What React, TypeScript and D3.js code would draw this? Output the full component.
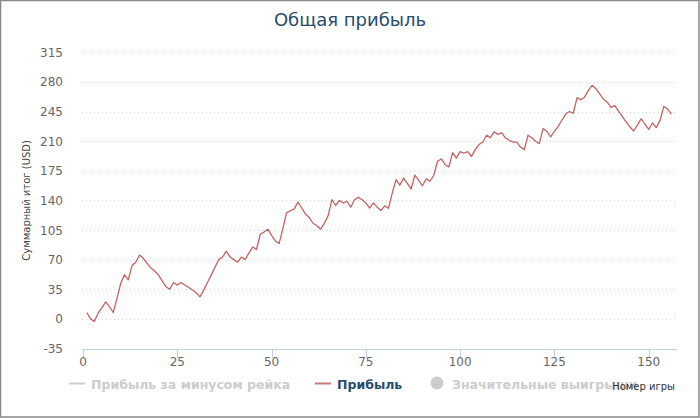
import React from "react";
import * as d3 from "d3";

const games: number[] = Array.from({ length: 156 }, (_, i) => i + 1);
const profit: number[] = [
  7.5, 0, -3, 6.7, 13, 20, 14.5, 7.5, 24, 42,
  52, 46, 63, 67, 75.5, 71.6, 65.7, 60, 56.6, 52,
  45, 38, 35, 43, 40, 43, 40, 37.4, 34, 31,
  26, 34, 43, 51.7, 61, 70, 73, 80, 73, 70,
  67, 73, 70, 78, 85, 82, 100, 102.6, 106, 98.6,
  92, 89, 107, 125.7, 127.7, 130, 138, 131, 123.7, 119.7,
  113, 110, 106, 113, 122, 140.8, 134, 140, 137, 139,
  132, 140.8, 143.6, 140.8, 137, 131, 137, 132, 128, 133.6,
  130.6, 148.7, 164.5, 158, 166.3, 160, 153.5, 170, 163.7, 157.3,
  165.6, 162.6, 169.4, 186.3, 189, 182.5, 179.5, 196.5, 190, 197.6,
  195.7, 197.6, 192, 200, 206, 209, 217, 214, 221, 218,
  220, 214, 211, 209, 209, 203, 200, 217, 214, 210,
  207, 225, 221.7, 215, 221.7, 227.5, 235, 242, 245, 243,
  261.5, 259, 262, 270, 276, 272, 266, 259.6, 256, 250,
  252, 245.4, 239, 232.7, 227, 222, 229, 236.5, 230, 224,
  231.5, 226, 234.6, 251, 248, 242,
];
const yTicks: number[] = [-35, 0, 35, 70, 105, 140, 175, 210, 245, 280, 315];
const xTicks: number[] = [0, 25, 50, 75, 100, 125, 150];
const legendItems = [
  { label: "Прибыль за минусом рейка", kind: "line", visible: false },
  { label: "Прибыль", kind: "line", visible: true },
  { label: "Значительные выигрыши", kind: "circle", visible: false },
];
const title = "Общая прибыль";
const yTitle = "Суммарный итог (USD)";
const xTitle = "Номер игры";

const W = 700;
const H = 418;
const FONT = "'DejaVu Sans', Verdana, sans-serif";
const LINE_COLOR = "#c25f5d";

export default function App() {
  const x = d3.scaleLinear().domain([0, 157.5]).range([83, 677]);
  const y = d3.scaleLinear().domain([-35, 315]).range([348.5, 52.3]);
  const line = d3
    .line<number>()
    .x((_, i) => x(games[i]))
    .y((d) => y(d));

  const legendX = [69, 315, 437];

  return (
    <svg
      width={W}
      height={H}
      style={{ position: "absolute", left: 0, top: 0, background: "#fff" }}
      fontFamily={FONT}
    >
      <rect x={0.5} y={0.5} width={W - 1.5} height={H - 1.5} fill="#fff" stroke="#888" strokeWidth={1.5} />
      <text x={350} y={26} textAnchor="middle" fontSize={18} fill="#274b6d">
        {title}
      </text>

      {yTicks.map((t) =>
        t === -35 ? null : (
          <line
            key={"g" + t}
            x1={82}
            x2={677}
            y1={Math.round(y(t)) + 0.5}
            y2={Math.round(y(t)) + 0.5}
            stroke="#d0d0d0"
            strokeDasharray="1,3"
          />
        )
      )}
      {yTicks.map((t) => (
        <text key={"yl" + t} x={63} y={y(t) + 4.5} textAnchor="end" fontSize={12} fill="#666">
          {t}
        </text>
      ))}
      <text
        transform={`translate(30,${y(140)}) rotate(-90)`}
        textAnchor="middle"
        fontSize={10}
        fill="#444"
      >
        {yTitle}
      </text>

      <line x1={82} x2={677} y1={Math.round(y(-35)) + 0.5} y2={Math.round(y(-35)) + 0.5} stroke="#C0D0E0" />
      {xTicks.map((t) => (
        <g key={"xt" + t}>
          <line
            x1={Math.round(x(t)) + 0.5}
            x2={Math.round(x(t)) + 0.5}
            y1={Math.round(y(-35))}
            y2={Math.round(y(-35)) + 9}
            stroke="#C0D0E0"
          />
          <text x={x(t)} y={366} textAnchor="middle" fontSize={12} fill="#666">
            {t}
          </text>
        </g>
      ))}

      <path d={line(profit) || ""} fill="none" stroke={LINE_COLOR} strokeWidth={1.25} strokeLinejoin="round" />

      {legendItems.map((it, i) => {
        const lx = legendX[i];
        const col = it.visible ? "#c87876" : "#ccc";
        return (
          <g key={"lg" + i}>
            {it.kind === "line" ? (
              <line x1={lx} x2={lx + 16} y1={383.5} y2={383.5} stroke={col} strokeWidth={2} />
            ) : (
              <circle cx={lx} cy={383} r={6.5} fill="#ccc" />
            )}
            <text
              x={it.kind === "line" ? lx + 22 : lx + 15}
              y={388.5}
              fontSize={12.5}
              fontWeight="bold"
              fill={it.visible ? "#274b6d" : "#ccc"}
            >
              {it.label}
            </text>
          </g>
        );
      })}
      <text x={675} y={390} textAnchor="end" fontSize={10} fill="#333">
        {xTitle}
      </text>
    </svg>
  );
}
